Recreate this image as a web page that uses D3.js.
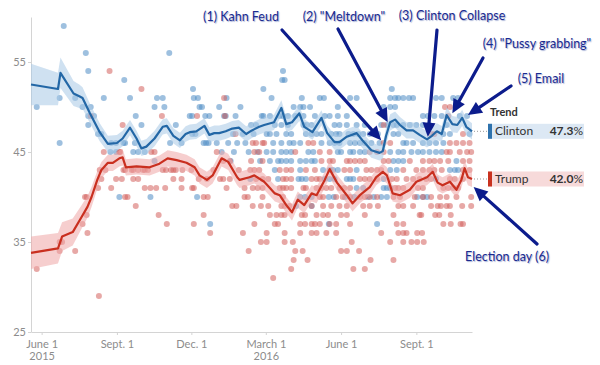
<!DOCTYPE html>
<html lang="en">
<head>
<meta charset="UTF-8">
<script src="https://d3js.org/d3.v7.min.js"></script>
<title>Clinton vs Trump polls</title>
<style>
  body { margin: 0; background: #fff; font-family: Lato, "Open Sans", sans-serif; }
  .axis .tick text { fill: #8c8c8c; font-size: 11px; font-family: Lato, sans-serif; }
  .axis path, .axis line { stroke: #d4d4d4; }
  .note { fill: #1b2a8f; font-size: 12.5px; font-family: Lato, sans-serif; text-shadow: 1px 1px 1px #a9b3d6; }
</style>
</head>
<body>
<svg id="chart" width="600" height="365"></svg>
<script>
// trend: [date, value, band half-width]
const clintonTrend = [
  ["2015-05-19",52.5,2.3],["2015-06-21",52.0,1.8],["2015-06-24",53.8,1.7],["2015-07-10",51.5,1.4],
  ["2015-07-17",51.2,1.3],["2015-07-21",51.0,1.2],["2015-07-30",49.3,1.1],["2015-08-11",47.2,1.0],
  ["2015-08-21",45.9,0.9],["2015-09-01",46.0,0.9],["2015-09-08",46.5,0.85],["2015-09-17",47.7,0.85],
  ["2015-09-25",46.5,0.85],["2015-10-01",45.4,0.85],["2015-10-07",45.6,0.85],["2015-10-17",46.5,0.85],
  ["2015-10-27",47.8,0.85],["2015-11-01",47.9,0.85],["2015-11-09",46.8,0.85],["2015-11-17",46.3,0.85],
  ["2015-11-24",47.0,0.85],["2015-11-29",47.2,0.85],["2015-12-07",47.3,0.85],["2015-12-17",47.9,0.85],
  ["2015-12-23",46.9,0.85],["2015-12-29",47.1,0.85],["2016-01-04",47.1,0.85],["2016-01-12",47.3,0.85],
  ["2016-01-20",47.6,0.85],["2016-01-28",47.7,0.85],["2016-02-06",47.0,0.85],["2016-02-13",47.4,0.85],
  ["2016-02-22",47.8,0.85],["2016-02-28",48.0,0.85],["2016-03-11",48.3,0.85],["2016-03-20",49.9,0.85],
  ["2016-03-26",48.1,0.85],["2016-04-02",48.3,0.85],["2016-04-11",49.3,0.85],["2016-04-17",47.8,0.85],
  ["2016-04-27",47.2,0.85],["2016-05-08",48.8,0.85],["2016-05-15",47.1,0.85],["2016-05-24",46.1,0.85],
  ["2016-05-30",46.1,0.85],["2016-06-08",46.7,0.85],["2016-06-20",47.1,0.85],["2016-06-27",46.3,0.85],
  ["2016-07-08",45.2,0.85],["2016-07-18",44.9,0.85],["2016-07-22",45.1,0.85],["2016-07-26",46.8,0.9],
  ["2016-07-31",48.3,0.9],["2016-08-06",48.6,0.9],["2016-08-12",48.0,0.9],["2016-08-20",47.4,0.9],
  ["2016-08-28",47.4,0.9],["2016-09-05",46.9,0.9],["2016-09-14",46.4,0.9],["2016-09-20",46.8,0.9],
  ["2016-09-26",47.3,0.9],["2016-10-02",47.0,0.9],["2016-10-08",49.1,0.9],["2016-10-15",48.1,0.9],
  ["2016-10-21",48.0,0.9],["2016-10-27",48.8,0.9],["2016-11-01",47.8,0.9],["2016-11-08",47.3,0.9]
];
const trumpTrend = [
  ["2015-05-19",33.8,1.8],["2015-06-21",34.3,1.7],["2015-06-26",35.6,1.6],["2015-07-09",36.1,1.5],
  ["2015-07-20",37.8,1.3],["2015-07-27",38.9,1.2],["2015-08-01",40.0,1.1],["2015-08-08",41.9,1.0],
  ["2015-08-13",43.0,0.9],["2015-08-21",43.8,0.9],["2015-08-27",43.8,0.9],["2015-09-04",44.3,0.9],
  ["2015-09-08",44.4,0.9],["2015-09-12",43.3,0.9],["2015-09-25",43.4,0.9],["2015-10-11",43.3,0.9],
  ["2015-10-23",43.7,0.9],["2015-11-02",44.3,0.9],["2015-11-13",44.1,0.9],["2015-11-25",43.8,0.9],
  ["2015-12-05",43.3,0.9],["2015-12-11",42.4,0.9],["2015-12-20",41.9,0.9],["2015-12-27",42.4,0.9],
  ["2016-01-07",44.3,0.9],["2016-01-15",43.9,0.9],["2016-01-26",42.2,0.9],["2016-01-29",41.9,0.9],
  ["2016-02-10",42.2,0.9],["2016-02-16",42.4,0.9],["2016-02-28",41.7,0.9],["2016-03-06",41.0,0.9],
  ["2016-03-12",40.4,0.9],["2016-03-18",40.2,0.9],["2016-03-26",39.1,0.9],["2016-04-02",38.3,0.9],
  ["2016-04-09",39.7,0.9],["2016-04-17",39.1,0.9],["2016-04-26",40.4,0.9],["2016-05-02",40.2,0.9],
  ["2016-05-12",41.9,0.9],["2016-05-18",43.1,0.9],["2016-05-27",41.6,0.9],["2016-06-08",40.2,0.9],
  ["2016-06-15",39.3,0.9],["2016-06-24",40.2,0.9],["2016-07-06",41.1,0.9],["2016-07-14",42.2,0.9],
  ["2016-07-22",42.8,0.9],["2016-07-27",42.4,0.9],["2016-08-03",40.4,0.9],["2016-08-12",40.2,0.9],
  ["2016-08-24",40.8,0.9],["2016-09-01",41.7,0.9],["2016-09-14",42.2,0.9],["2016-09-21",42.8,0.9],
  ["2016-09-27",41.6,0.9],["2016-10-03",41.3,0.9],["2016-10-12",41.7,0.9],["2016-10-20",40.8,0.9],
  ["2016-10-26",41.9,0.9],["2016-10-30",43.2,0.9],["2016-11-03",42.2,0.9],["2016-11-08",42.0,0.9]
];

// individual polls: [date, value]
const clintonPolls = [
  ["2015-05-26",50],["2015-06-23",51],["2015-06-23",46],["2015-06-28",59],["2015-07-12",51],["2015-07-21",50],
  ["2015-07-25",56],["2015-07-28",54],["2015-07-28",49],["2015-07-28",48],["2015-07-31",50],["2015-08-04",49],
  ["2015-08-09",47],["2015-08-13",47],["2015-08-16",51],["2015-08-24",45],["2015-08-25",46],["2015-08-31",46],
  ["2015-08-31",45],["2015-09-04",40],["2015-09-09",46],["2015-09-10",53],["2015-09-11",46],["2015-09-17",51],
  ["2015-09-21",45],["2015-09-23",46],["2015-09-24",49],["2015-09-27",45],["2015-10-01",48],["2015-10-05",45],
  ["2015-10-12",40],["2015-10-17",50],["2015-10-17",44],["2015-10-20",51],["2015-10-27",51],["2015-10-29",50],
  ["2015-11-04",56],["2015-11-05",46],["2015-11-12",48],["2015-11-19",46],["2015-11-29",49],["2015-12-02",49],
  ["2015-12-02",47],["2015-12-03",52],["2015-12-04",51],["2015-12-06",47],["2015-12-08",40],["2015-12-09",51],
  ["2015-12-11",50],["2015-12-14",50],["2015-12-16",46],["2015-12-18",49],["2015-12-19",46],["2015-12-22",46],
  ["2015-12-23",49],["2015-12-24",37],["2016-01-01",46],["2016-01-04",50],["2016-01-07",45],["2016-01-10",49],
  ["2016-01-12",49],["2016-01-13",51],["2016-01-15",46],["2016-01-18",44],["2016-01-21",47],["2016-01-22",45],
  ["2016-01-24",49],["2016-01-26",46],["2016-01-30",50],["2016-02-02",47],["2016-02-05",46],["2016-02-09",45],
  ["2016-02-11",42],["2016-02-12",48],["2016-02-15",47],["2016-02-18",48],["2016-02-20",45],["2016-02-23",44],
  ["2016-02-25",49],["2016-02-27",49],["2016-02-27",52],
  ["2016-03-22",54],["2016-03-21",53],["2016-03-24",53],["2016-08-02",52],
  ["2016-03-08",51],["2016-04-14",51],["2016-05-06",51],["2016-05-11",51],["2016-06-12",51],["2016-06-20",51],
  ["2016-07-31",51],["2016-08-06",51],["2016-08-10",51],["2016-08-16",51],["2016-08-23",51],["2016-08-28",51],
  ["2016-09-25",51],["2016-10-02",51],["2016-10-16",51],["2016-10-22",51],
  ["2016-04-04",50],["2016-04-12",50],["2016-04-16",50],["2016-04-24",50],["2016-05-28",50],["2016-07-23",50],
  ["2016-07-31",50],["2016-08-06",50],
  ["2016-03-06",49],["2016-03-18",49],["2016-03-22",49],["2016-03-28",49],["2016-04-06",49],["2016-04-16",49],
  ["2016-04-30",49],["2016-05-12",49],["2016-05-18",49],["2016-05-28",49],["2016-06-08",49],["2016-09-09",49],
  ["2016-09-15",49],["2016-09-23",49],["2016-10-02",49],["2016-10-24",49],["2016-11-02",49],
  ["2016-03-12",48],["2016-03-20",48],["2016-03-28",48],["2016-04-16",48],["2016-04-20",48],["2016-04-26",48],
  ["2016-05-24",48],["2016-05-30",48],["2016-06-08",48],["2016-06-20",48],["2016-06-30",48],["2016-07-20",48],
  ["2016-07-27",48],["2016-08-04",48],["2016-08-08",48],["2016-08-16",48],["2016-08-24",48],["2016-09-01",48],
  ["2016-09-09",48],["2016-09-17",48],["2016-10-08",48],
  ["2016-03-02",47],["2016-03-06",47],["2016-03-14",47],["2016-03-26",47],["2016-04-01",47],["2016-04-19",47],
  ["2016-04-26",47],["2016-05-02",47],["2016-05-08",47],["2016-05-20",47],["2016-05-26",47],["2016-05-30",47],
  ["2016-06-10",47],["2016-06-16",47],["2016-06-22",47],["2016-06-28",47],["2016-07-06",47],["2016-07-16",47],
  ["2016-08-04",47],["2016-08-10",47],["2016-10-04",47],["2016-10-12",47],["2016-11-05",47],
  ["2016-03-10",46],["2016-03-20",46],["2016-03-30",46],["2016-04-04",46],["2016-04-12",46],["2016-05-08",46],
  ["2016-05-18",46],["2016-05-24",46],["2016-05-30",46],["2016-06-12",46],["2016-06-18",46],["2016-06-24",46],
  ["2016-06-30",46],["2016-07-08",46],["2016-07-18",46],["2016-08-16",46],["2016-08-20",46],["2016-08-28",46],
  ["2016-09-09",46],["2016-09-17",46],["2016-09-25",46],["2016-10-04",46],
  ["2016-03-02",45],["2016-03-10",45],["2016-03-20",45],["2016-03-26",45],["2016-04-01",45],["2016-04-22",45],
  ["2016-04-28",45],["2016-05-28",45],["2016-06-01",45],["2016-06-12",45],["2016-06-16",45],["2016-06-24",45],
  ["2016-06-30",45],["2016-07-31",45],["2016-08-10",45],["2016-08-16",45],["2016-08-26",45],["2016-09-03",45],
  ["2016-09-09",45],["2016-09-17",45],["2016-09-25",45],["2016-10-02",45],
  ["2016-03-06",44],["2016-03-16",44],["2016-03-20",44],["2016-03-26",44],["2016-04-01",44],["2016-04-12",44],
  ["2016-04-19",44],["2016-04-26",44],["2016-04-30",44],["2016-08-04",44],["2016-08-10",44],["2016-08-16",44],
  ["2016-10-20",44],
  ["2016-03-12",43],["2016-04-12",43],["2016-05-10",43],["2016-05-18",43],["2016-05-22",43],["2016-05-28",43],
  ["2016-06-20",43],["2016-07-31",43],["2016-08-08",43],["2016-10-12",43],["2016-10-18",43],["2016-10-22",43],
  ["2016-03-16",42],["2016-04-10",42],["2016-04-14",42],["2016-04-19",42],["2016-05-12",42],["2016-05-18",42],
  ["2016-05-24",42],["2016-06-08",42],["2016-06-12",42],["2016-06-16",42],["2016-07-23",42],["2016-09-25",42],
  ["2016-06-20",41],["2016-06-28",41],["2016-07-23",41],["2016-07-27",41],["2016-07-31",41],
  ["2016-04-12",40],["2016-04-18",40],["2016-04-26",40],["2016-05-17",40],["2016-05-23",40],["2016-06-06",40],
  ["2016-06-17",40],["2016-07-04",40],["2016-07-11",40],["2016-07-20",40],["2016-07-27",40],["2016-09-02",40],
  ["2016-09-09",40],["2016-09-14",40],["2016-04-07",39],["2016-04-26",39],["2016-05-17",37],["2016-07-15",37]
];
const trumpPolls = [
  ["2015-05-26",32],["2015-06-23",35],["2015-06-23",34],["2015-06-26",35],["2015-07-12",34],["2015-07-21",37],
  ["2015-07-24",40],["2015-07-26",38],["2015-07-26",40],["2015-07-27",36],["2015-07-31",49],["2015-08-09",41],
  ["2015-08-10",29],["2015-08-11",43],["2015-08-13",42],["2015-08-16",45],["2015-08-18",43],["2015-08-23",54],
  ["2015-08-25",41],["2015-08-31",42],["2015-09-04",45],["2015-09-05",45],["2015-09-07",42],["2015-09-08",48],
  ["2015-09-09",43],["2015-09-11",43],["2015-09-11",40],["2015-09-14",40],["2015-09-19",43],["2015-09-21",43],
  ["2015-09-21",42],["2015-09-24",39],["2015-09-27",43],["2015-09-27",42],["2015-10-01",52],["2015-10-03",43],
  ["2015-10-05",43],["2015-10-05",41],["2015-10-09",43],["2015-10-12",41],["2015-10-13",45],["2015-10-17",45],
  ["2015-10-19",41],["2015-10-22",38],["2015-10-26",49],["2015-10-27",43],["2015-10-30",41],["2015-10-31",43],
  ["2015-11-01",37],["2015-11-06",43],["2015-11-09",43],["2015-11-09",42],["2015-11-12",43],["2015-11-19",42],
  ["2015-11-19",41],["2015-11-20",43],["2015-12-01",43],["2015-12-02",41],["2015-12-04",41],["2015-12-04",37],
  ["2015-12-08",49],["2015-12-10",42],["2015-12-16",40],["2015-12-16",38],["2015-12-20",42],["2015-12-21",40],
  ["2015-12-24",36],["2015-12-28",43],["2016-01-01",45],["2016-01-05",42],["2016-01-09",44],["2016-01-09",42],
  ["2016-01-10",51],["2016-01-11",49],["2016-01-13",41],["2016-01-17",44],["2016-01-17",42],["2016-01-20",39],
  ["2016-01-24",47],["2016-01-25",39],["2016-01-28",43],["2016-02-02",36],["2016-02-04",41],["2016-02-04",40],
  ["2016-02-08",40],["2016-02-09",34],["2016-02-11",43],["2016-02-12",44],["2016-02-14",46],["2016-02-14",41],
  ["2016-02-14",39],["2016-02-16",45],["2016-02-16",43],["2016-02-16",37],["2016-02-18",46],["2016-02-18",42],
  ["2016-02-20",41],["2016-02-22",45],["2016-02-22",43],["2016-02-24",39],["2016-02-24",35],["2016-02-26",46],
  ["2016-02-26",44],["2016-02-26",42],["2016-02-26",41],["2016-02-26",40],["2016-02-28",46],
  ["2016-07-23",48],["2016-10-06",50],["2016-10-12",50],["2016-10-10",49],
  ["2016-09-19",47],["2016-09-23",47],["2016-10-28",47],
  ["2016-04-22",46],["2016-04-28",46],["2016-07-23",46],["2016-07-31",46],["2016-10-12",46],["2016-10-20",46],
  ["2016-10-28",46],["2016-11-05",46],
  ["2016-04-06",45],["2016-05-06",45],["2016-05-18",45],["2016-07-06",45],["2016-07-15",45],["2016-07-23",45],
  ["2016-10-08",45],["2016-10-12",45],["2016-10-24",45],["2016-11-02",45],["2016-11-07",45],
  ["2016-05-08",44],["2016-05-18",44],["2016-05-22",44],["2016-06-08",44],["2016-06-12",44],["2016-06-18",44],
  ["2016-06-24",44],["2016-06-30",44],["2016-07-23",44],["2016-07-29",44],["2016-08-24",44],["2016-09-09",44],
  ["2016-09-17",44],["2016-09-23",44],["2016-09-30",44],["2016-10-10",44],["2016-10-28",44],["2016-11-05",44],
  ["2016-03-18",43],["2016-03-26",43],["2016-04-01",43],["2016-04-19",43],["2016-04-30",43],["2016-06-05",43],
  ["2016-06-12",43],["2016-07-02",43],["2016-07-08",43],["2016-07-15",43],["2016-07-20",43],["2016-08-16",43],
  ["2016-09-01",43],["2016-09-09",43],["2016-09-17",43],["2016-09-23",43],["2016-10-02",43],["2016-10-28",43],
  ["2016-11-05",43],
  ["2016-03-04",42],["2016-03-22",42],["2016-03-26",42],["2016-04-01",42],["2016-04-26",42],["2016-05-02",42],
  ["2016-05-06",42],["2016-06-24",42],["2016-06-30",42],["2016-07-06",42],["2016-07-15",42],["2016-08-02",42],
  ["2016-08-08",42],["2016-08-20",42],["2016-08-28",42],["2016-09-05",42],["2016-09-13",42],["2016-09-19",42],
  ["2016-10-12",42],["2016-10-18",42],["2016-10-28",42],
  ["2016-03-18",41],["2016-03-22",41],["2016-03-26",41],["2016-04-01",41],["2016-04-16",41],["2016-04-19",41],
  ["2016-05-02",41],["2016-05-08",41],["2016-05-14",41],["2016-05-20",41],["2016-05-30",41],["2016-06-05",41],
  ["2016-06-12",41],["2016-08-06",41],["2016-08-10",41],["2016-08-16",41],["2016-09-03",41],["2016-09-09",41],
  ["2016-10-04",41],["2016-10-10",41],["2016-10-16",41],["2016-10-22",41],
  ["2016-03-22",40],["2016-05-06",40],["2016-05-10",40],["2016-05-26",40],["2016-06-03",40],["2016-06-12",40],
  ["2016-06-24",40],["2016-06-30",40],["2016-07-06",40],["2016-07-15",40],["2016-08-04",40],["2016-08-12",40],
  ["2016-08-30",40],["2016-09-09",40],["2016-09-19",40],["2016-09-30",40],["2016-10-08",40],["2016-10-20",40],
  ["2016-11-07",40],
  ["2016-03-04",39],["2016-03-20",39],["2016-03-24",39],["2016-03-30",39],["2016-04-26",39],["2016-05-10",39],
  ["2016-05-20",39],["2016-05-30",39],["2016-06-08",39],["2016-06-28",39],["2016-07-06",39],["2016-07-16",39],
  ["2016-08-10",39],["2016-08-16",39],["2016-08-28",39],["2016-09-19",39],["2016-09-27",39],["2016-10-01",39],
  ["2016-10-08",39],["2016-10-12",39],["2016-10-27",39],["2016-11-07",39],
  ["2016-03-06",38],["2016-03-14",38],["2016-03-20",38],["2016-03-24",38],["2016-04-14",38],["2016-04-18",38],
  ["2016-05-02",38],["2016-05-10",38],["2016-05-16",38],["2016-06-01",38],["2016-06-08",38],["2016-06-30",38],
  ["2016-08-04",38],["2016-09-05",38],["2016-09-07",38],["2016-09-24",38],["2016-09-29",38],["2016-10-13",38],
  ["2016-03-12",37],["2016-03-16",37],["2016-04-12",37],["2016-04-18",37],["2016-04-26",37],["2016-04-30",37],
  ["2016-05-06",37],["2016-05-18",37],["2016-05-26",37],["2016-06-12",37],["2016-08-08",37],["2016-08-16",37],
  ["2016-10-04",37],["2016-10-13",37],["2016-10-25",37],["2016-10-28",37],
  ["2016-03-02",36],["2016-03-24",36],["2016-04-12",36],["2016-04-26",36],["2016-05-02",36],["2016-05-14",36],
  ["2016-05-26",36],["2016-07-20",36],["2016-08-10",36],["2016-08-16",36],["2016-08-20",36],["2016-09-02",36],
  ["2016-09-08",36],
  ["2016-03-02",35],["2016-03-24",35],["2016-04-03",35],["2016-06-14",35],["2016-07-31",35],["2016-08-16",35],
  ["2016-08-26",35],["2016-09-02",35],["2016-09-10",35],
  ["2016-04-06",34],["2016-04-15",34],["2016-06-01",34],["2016-06-08",34],["2016-06-23",34],
  ["2016-04-04",33],["2016-04-21",33],["2016-07-07",33],["2016-08-04",33],
  ["2016-04-01",32],["2016-06-16",32],["2016-06-30",32],["2016-03-10",31]
];

const yTicks = [25, 35, 45, 55];
const xTicks = ["2015-06-01", "2015-09-01", "2015-12-01", "2016-03-01", "2016-06-01", "2016-09-01"];
const xTickLabels = [["June 1", "2015"], ["Sept. 1"], ["Dec. 1"], ["March 1", "2016"], ["June 1"], ["Sept. 1"]];
const candidates = ["Clinton", "Trump"];

const notes = [
  { text: "(1) Kahn Feud", tx: 241, ty: 21, from: [282, 30], date: "2016-07-20", value: 46.3 },
  { text: "(2) \"Meltdown\"", tx: 344, ty: 21, from: [338, 29], date: "2016-07-28", value: 48.3 },
  { text: "(3) Clinton Collapse", tx: 452, ty: 20, from: [437, 30], date: "2016-09-15", value: 46.7 },
  { text: "(4) \"Pussy grabbing\"", tx: 537, ty: 48, from: [483, 58], date: "2016-10-15", value: 49.3 },
  { text: "(5) Email", tx: 541, ty: 83, from: [511, 86], date: "2016-11-03", value: 49.1 },
  { text: "Election day (6)", tx: 507, ty: 261, from: [537, 244], date: "2016-11-10", value: 41.1 }
];

const parse = d3.timeParse("%Y-%m-%d");
const svg = d3.select("#chart");

const x = d3.scaleTime()
    .domain([parse("2015-05-19"), parse("2016-11-08")])
    .range([31, 472]);
const y = d3.scaleLinear()
    .domain([25, 60])
    .range([332, 17]);

const series = [
  { name: "Clinton", trend: clintonTrend, polls: clintonPolls, dot: "#4f8cc4", line: "#2367a6", band: "#a8c8e6", box: "#dce8f4", bar: "#2e72ad" },
  { name: "Trump", trend: trumpTrend, polls: trumpPolls, dot: "#d4605c", line: "#c92f1f", band: "#efa5a5", box: "#f7dada", bar: "#c9321f" }
];

// axes
const xAxis = svg.append("g")
    .attr("class", "axis")
    .attr("transform", "translate(0,332)")
    .call(d3.axisBottom(x).tickValues(xTicks.map(parse)).tickSize(3).tickSizeOuter(0).tickPadding(5).tickFormat(""));
xAxis.selectAll(".tick text").each(function (d, i) {
  const t = d3.select(this);
  xTickLabels[i].forEach((s, j) => {
    t.append("tspan").attr("x", 0).attr("dy", j === 0 ? "0.71em" : "1.1em").text(s);
  });
});

svg.append("g")
    .attr("class", "axis")
    .attr("transform", "translate(31,0)")
    .call(d3.axisLeft(y).tickValues(yTicks).tickSize(3).tickSizeOuter(0).tickPadding(2));

// poll dots
series.forEach(s => {
  svg.append("g").selectAll("circle")
      .data(s.polls)
      .enter()
      .append("circle")
      .attr("cx", d => x(parse(d[0])))
      .attr("cy", d => y(d[1]))
      .attr("r", 3)
      .attr("fill", s.dot)
      .attr("fill-opacity", 0.55);
});

// bands and lines
series.forEach(s => {
  const area = d3.area()
      .x(d => x(parse(d[0])))
      .y0(d => y(d[1] - d[2]))
      .y1(d => y(d[1] + d[2]));
  svg.append("path")
      .attr("d", area(s.trend))
      .attr("fill", s.band)
      .attr("fill-opacity", 0.55);
});
series.forEach(s => {
  const line = d3.line()
      .x(d => x(parse(d[0])))
      .y(d => y(d[1]));
  svg.append("path")
      .attr("d", line(s.trend))
      .attr("fill", "none")
      .attr("stroke", s.line)
      .attr("stroke-width", 2.2)
      .attr("stroke-linejoin", "round");
});

// legend
const boxX = 488, boxW = 96, boxH = 15;
series.forEach((s, i) => {
  const last = s.trend[s.trend.length - 1];
  const ly = y(last[1]);
  svg.append("line")
      .attr("x1", x(parse(last[0])) + 2).attr("x2", boxX - 1)
      .attr("y1", ly).attr("y2", ly)
      .attr("stroke", "#999").attr("stroke-dasharray", "1,2");
  svg.append("rect")
      .attr("x", boxX).attr("y", ly - boxH / 2)
      .attr("width", boxW).attr("height", boxH)
      .attr("fill", s.box);
  svg.append("rect")
      .attr("x", boxX).attr("y", ly - boxH / 2)
      .attr("width", 4).attr("height", boxH)
      .attr("fill", s.bar);
  svg.append("text")
      .attr("x", boxX + 7).attr("y", ly + 4)
      .style("font-size", "12px").style("fill", "#333")
      .text(candidates[i]);
  const v = svg.append("text")
      .attr("x", boxX + boxW - 1).attr("y", ly + 4)
      .attr("text-anchor", "end")
      .style("font-size", "12px").style("fill", "#333");
  v.append("tspan").style("font-weight", "bold").text(last[1].toFixed(1));
  v.append("tspan").text("%");
  if (i === 0) {
    svg.append("text")
        .attr("x", boxX + 2).attr("y", ly - boxH / 2 - 8)
        .style("font-size", "11px").style("font-weight", "bold").style("fill", "#333")
        .text("Trend");
  }
});

// annotations
const navy = "#0c1c8c";
notes.forEach(n => {
  const [x0, y0] = n.from;
  const x1 = x(parse(n.date)), y1 = y(n.value);
  const a = Math.atan2(y1 - y0, x1 - x0);
  const L = 14, W = 6.5;
  const bx = x1 - L * Math.cos(a), by = y1 - L * Math.sin(a);
  svg.append("line")
      .attr("x1", x0).attr("y1", y0)
      .attr("x2", bx + 2 * Math.cos(a)).attr("y2", by + 2 * Math.sin(a))
      .attr("stroke", navy).attr("stroke-width", 3.2).attr("stroke-linecap", "round");
  svg.append("path")
      .attr("d", `M${x1},${y1}L${bx - W * Math.sin(a)},${by + W * Math.cos(a)}L${bx + W * Math.sin(a)},${by - W * Math.cos(a)}Z`)
      .attr("fill", navy);
  svg.append("text")
      .attr("class", "note")
      .attr("x", n.tx).attr("y", n.ty)
      .attr("text-anchor", "middle")
      .text(n.text);
});
</script>
</body>
</html>
